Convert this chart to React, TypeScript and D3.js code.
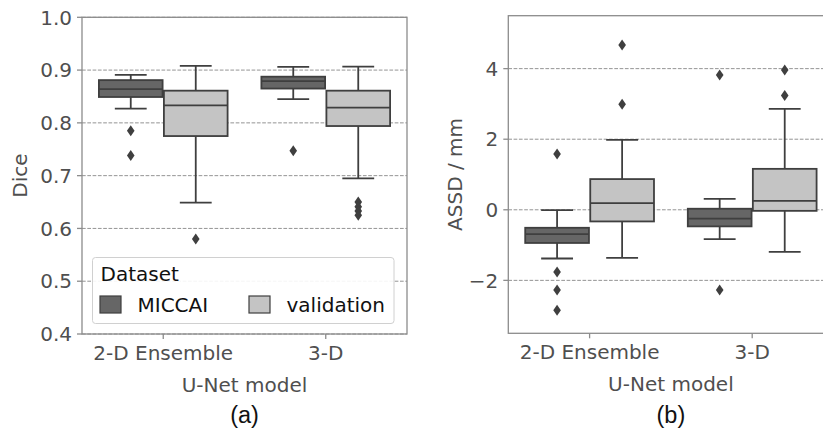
import React, { useEffect, useRef } from "react";
import * as d3 from "d3";

// box stats: [lower whisker, q1, median, q3, upper whisker]
const models = ["2-D Ensemble", "3-D"];
const datasets = ["MICCAI", "validation"];

const diceMiccai = [
  [0.827, 0.849, 0.864, 0.881, 0.891],
  [0.845, 0.865, 0.879, 0.8875, 0.906],
];
const diceValidation = [
  [0.649, 0.775, 0.833, 0.861, 0.908],
  [0.695, 0.794, 0.829, 0.861, 0.9065],
];
const diceMiccaiOut = [[0.785, 0.738], [0.747]];
const diceValidationOut = [[0.58], [0.65, 0.641, 0.633, 0.625]];

const assdMiccai = [
  [-1.38, -0.94, -0.69, -0.51, -0.01],
  [-0.83, -0.47, -0.25, 0.03, 0.31],
];
const assdValidation = [
  [-1.36, -0.33, 0.19, 0.87, 1.98],
  [-1.19, -0.03, 0.25, 1.16, 2.86],
];
const assdMiccaiOut = [[1.58, -1.76, -2.27, -2.85], [3.82, -2.27]];
const assdValidationOut = [[4.67, 2.99], [3.96, 3.24]];

const diceTicks = [0.4, 0.5, 0.6, 0.7, 0.8, 0.9, 1.0];
const assdTicks = [-2, 0, 2, 4];

const fills = ["#666666", "#c4c4c4"];
const edge = "#3f3f3f";
const textGray = "#4f4f4f";
const font = "DejaVu Sans";
const fs = 20;

type PanelOpts = {
  left: number;
  right: number;
  top: number;
  bottom: number;
  domain: [number, number];
  ticks: number[];
  fmt: (v: number) => string;
  ylabel: string;
  ylabelX: number;
  boxes: number[][][];
  outliers: number[][][];
  tag: string;
  legend: boolean;
};

const drawPanel = (svg: d3.Selection<SVGSVGElement, unknown, null, undefined>, o: PanelOpts) => {
  const x = d3.scaleBand().domain(models).range([o.left, o.right]);
  const y = d3.scaleLinear().domain(o.domain).range([o.bottom, o.top]);
  const bw = x.bandwidth();
  const g = svg.append("g");

  // grid
  g.selectAll("line.grid")
    .data(o.ticks)
    .join("line")
    .attr("x1", o.left)
    .attr("x2", o.right)
    .attr("y1", d => y(d))
    .attr("y2", d => y(d))
    .attr("stroke", "#949494")
    .attr("stroke-width", 1)
    .attr("stroke-dasharray", "3.7,1.6");

  // boxes
  const sub = d3.scaleBand().domain(datasets).range([-0.4 * bw, 0.4 * bw]);
  datasets.forEach((ds, di) => {
    models.forEach((m, mi) => {
      const [lo, q1, med, q3, hi] = o.boxes[di][mi];
      const cx = x(m)! + bw / 2 + sub(ds)! + sub.bandwidth() / 2;
      const w = sub.bandwidth() * 0.98;
      const cap = w / 2;
      const bg = g.append("g").attr("stroke", edge).attr("stroke-width", 1.8);
      bg.append("line").attr("x1", cx).attr("x2", cx).attr("y1", y(q3)).attr("y2", y(hi));
      bg.append("line").attr("x1", cx).attr("x2", cx).attr("y1", y(q1)).attr("y2", y(lo));
      bg.append("line").attr("x1", cx - cap / 2).attr("x2", cx + cap / 2).attr("y1", y(hi)).attr("y2", y(hi));
      bg.append("line").attr("x1", cx - cap / 2).attr("x2", cx + cap / 2).attr("y1", y(lo)).attr("y2", y(lo));
      bg.append("rect")
        .attr("x", cx - w / 2)
        .attr("width", w)
        .attr("y", y(q3))
        .attr("height", y(q1) - y(q3))
        .attr("fill", fills[di]);
      bg.append("line").attr("x1", cx - w / 2).attr("x2", cx + w / 2).attr("y1", y(med)).attr("y2", y(med));
      g.selectAll(null)
        .data(o.outliers[di][mi])
        .join("path")
        .attr("d", d => `M${cx},${y(d) - 5.5}L${cx + 3.8},${y(d)}L${cx},${y(d) + 5.5}L${cx - 3.8},${y(d)}Z`)
        .attr("fill", edge);
    });
  });

  // frame
  g.append("rect")
    .attr("x", o.left)
    .attr("y", o.top)
    .attr("width", o.right - o.left)
    .attr("height", o.bottom - o.top)
    .attr("fill", "none")
    .attr("stroke", "#8c8c8c")
    .attr("stroke-width", 1.3);

  // y ticks
  g.selectAll("line.yt")
    .data(o.ticks)
    .join("line")
    .attr("x1", o.left - 5)
    .attr("x2", o.left)
    .attr("y1", d => y(d))
    .attr("y2", d => y(d))
    .attr("stroke", "#8c8c8c")
    .attr("stroke-width", 1.3);
  g.selectAll("text.yt")
    .data(o.ticks)
    .join("text")
    .attr("x", o.left - 10)
    .attr("y", d => y(d))
    .attr("dy", "0.36em")
    .attr("text-anchor", "end")
    .attr("font-family", font)
    .attr("font-size", fs)
    .attr("fill", textGray)
    .text(d => o.fmt(d));

  // x ticks
  g.selectAll("line.xt")
    .data(models)
    .join("line")
    .attr("x1", d => x(d)! + bw / 2)
    .attr("x2", d => x(d)! + bw / 2)
    .attr("y1", o.bottom)
    .attr("y2", o.bottom + 5)
    .attr("stroke", "#8c8c8c")
    .attr("stroke-width", 1.3);
  g.selectAll("text.xt")
    .data(models)
    .join("text")
    .attr("x", d => x(d)! + bw / 2)
    .attr("y", o.bottom + 26)
    .attr("text-anchor", "middle")
    .attr("font-family", font)
    .attr("font-size", fs)
    .attr("fill", textGray)
    .text(d => d);

  const midX = (o.left + o.right) / 2;
  g.append("text")
    .attr("x", midX)
    .attr("y", o.bottom + 58)
    .attr("text-anchor", "middle")
    .attr("font-family", font)
    .attr("font-size", fs)
    .attr("fill", textGray)
    .text("U-Net model");
  g.append("text")
    .attr("transform", `translate(${o.ylabelX},${(o.top + o.bottom) / 2}) rotate(-90)`)
    .attr("text-anchor", "middle")
    .attr("dy", "0.36em")
    .attr("font-family", font)
    .attr("font-size", fs)
    .attr("fill", textGray)
    .text(o.ylabel);
  g.append("text")
    .attr("x", midX)
    .attr("y", 423)
    .attr("text-anchor", "middle")
    .attr("font-family", "Liberation Sans")
    .attr("font-size", 23.5)
    .attr("fill", "#111")
    .text(o.tag);

  if (o.legend) {
    const lg = g.append("g");
    lg.append("rect")
      .attr("x", 92.5)
      .attr("y", 257.5)
      .attr("width", 301.5)
      .attr("height", 66)
      .attr("rx", 3)
      .attr("fill", "rgba(255,255,255,0.9)")
      .attr("stroke", "#d0d0d0")
      .attr("stroke-width", 1);
    lg.append("text")
      .attr("x", 100.5)
      .attr("y", 281)
      .attr("font-family", font)
      .attr("font-size", fs)
      .attr("fill", "#111")
      .text("Dataset");
    const lx = [100, 249];
    datasets.forEach((ds, i) => {
      lg.append("rect")
        .attr("x", lx[i])
        .attr("y", 296)
        .attr("width", 21)
        .attr("height", 17)
        .attr("fill", fills[i])
        .attr("stroke", edge)
        .attr("stroke-width", 1.2);
      lg.append("text")
        .attr("x", lx[i] + 37.5)
        .attr("y", 311.5)
        .attr("font-family", font)
        .attr("font-size", fs)
        .attr("fill", "#111")
        .text(ds);
    });
  }
};

const App = () => {
  const ref = useRef<SVGSVGElement>(null);

  useEffect(() => {
    const svg = d3.select(ref.current!);
    svg.selectAll("*").remove();
    drawPanel(svg, {
      left: 82, right: 407, top: 17.3, bottom: 334,
      domain: [0.4, 1.0], ticks: diceTicks, fmt: d3.format(".1f"),
      ylabel: "Dice", ylabelX: 19.5,
      boxes: [diceMiccai, diceValidation],
      outliers: [diceMiccaiOut, diceValidationOut],
      tag: "(a)", legend: true,
    });
    drawPanel(svg, {
      left: 508.3, right: 833.5, top: 15.7, bottom: 333.3,
      domain: [-3.5, 5.5], ticks: assdTicks, fmt: d => d3.format(".0f")(d).replace("-", "\u2212"),
      ylabel: "ASSD / mm", ylabelX: 455,
      boxes: [assdMiccai, assdValidation],
      outliers: [assdMiccaiOut, assdValidationOut],
      tag: "(b)", legend: false,
    });
  }, []);

  return (
    <svg
      ref={ref}
      width={823}
      height={433}
      style={{ position: "absolute", left: 0, top: 0, background: "#fff" }}
    />
  );
};

export default App;
